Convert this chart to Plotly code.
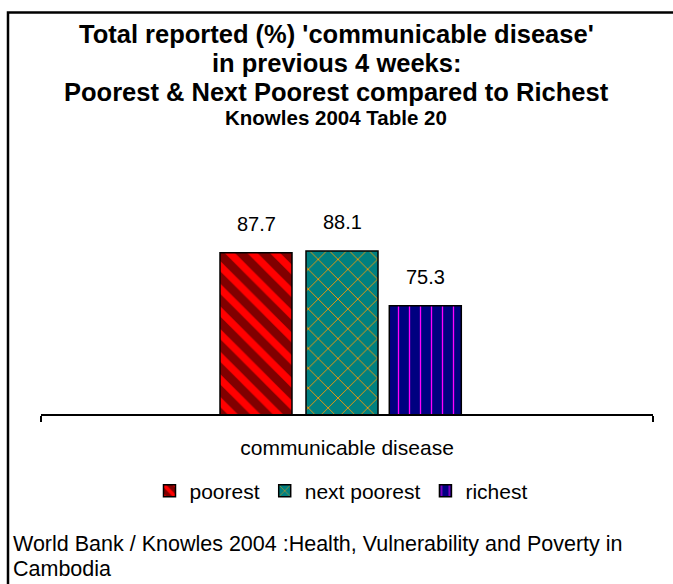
import plotly.graph_objects as go

categories = ["communicable disease"]
series_names = ["poorest", "next poorest", "richest"]
poorest = [87.7]
next_poorest = [88.1]
richest = [75.3]

title_lines = [
    "Total reported (%) 'communicable disease'",
    "in previous 4 weeks:",
    "Poorest & Next Poorest compared to Richest",
]
subtitle = "Knowles 2004 Table 20"
source_lines = [
    "World Bank / Knowles 2004 :Health, Vulnerability and Poverty in",
    "Cambodia",
]

FONT = "Liberation Sans, Arial, sans-serif"

# layout geometry (pixels)
W, H = 673, 584
L, R, T, B = 41, 20, 199.5, 169.5
PW = W - L - R
PH = H - T - B

def py(ypix):
    return (H - B - ypix) / PH

def px(xpix):
    return (xpix - L) / PW

bar_w = 72 / PW
offsets = [(220 - 347) / PW, (306 - 347) / PW, (389.3 - 347) / PW]

styles = [
    dict(color="#800000", shape="\\", fg="#FF0000", size=16, sol=0.45),
    dict(color="#008080", shape="x", fg="#FF9900", size=14, sol=0.12),
    dict(color="#000080", shape="|", fg="#FF00FF", size=11, sol=0.12),
]

fig = go.Figure()
for name, vals, st, off in zip(series_names, [poorest, next_poorest, richest], styles, offsets):
    fig.add_trace(go.Bar(
        x=categories, y=vals, name=name,
        width=bar_w, offset=off,
        marker=dict(
            color=st["color"],
            line=dict(color="black", width=1.5),
            pattern=dict(shape=st["shape"], fgcolor=st["fg"], bgcolor=st["color"],
                         size=st["size"], solidity=st["sol"], fillmode="replace"),
        ),
    ))
    for c, v in zip(categories, vals):
        fig.add_annotation(
            x=c, y=v, text=f"{v:.1f}", showarrow=False,
            xref="x", yref="y", yanchor="bottom",
            xshift=(off + bar_w / 2) * PW, yshift=16,
            font=dict(family=FONT, size=20, color="black"),
        )

annots = []
ys = [33, 62, 91]
for t, y in zip(title_lines, ys):
    annots.append(dict(text=f"<b>{t}</b>", x=px(336), y=py(y), xref="paper", yref="paper",
                       showarrow=False, xanchor="center", yanchor="middle",
                       font=dict(family=FONT, size=25.5, color="black")))
annots.append(dict(text=f"<b>{subtitle}</b>", x=px(336), y=py(117), xref="paper", yref="paper",
                   showarrow=False, xanchor="center", yanchor="middle",
                   font=dict(family=FONT, size=20.5, color="black")))
for t, y in zip(source_lines, [545, 570]):
    annots.append(dict(text=t, x=px(11), y=py(y), xref="paper", yref="paper",
                       showarrow=False, xanchor="left", yanchor="middle",
                       font=dict(family=FONT, size=21.5, color="black")))
for a in annots:
    fig.add_annotation(**a)

fig.add_shape(type="rect", xref="paper", yref="paper",
              x0=px(8), x1=px(700), y0=py(620), y1=py(11),
              line=dict(color="black", width=2.5), fillcolor="rgba(0,0,0,0)", layer="above")

fig.update_layout(
    width=W, height=H,
    margin=dict(l=L, r=R, t=T, b=B, pad=0),
    paper_bgcolor="white", plot_bgcolor="white",
    barmode="overlay",
    showlegend=True,
    legend=dict(orientation="h", x=px(341), xanchor="center", y=py(492), yanchor="middle",
                font=dict(family=FONT, size=21, color="black"),
                itemwidth=30, tracegroupgap=0, bgcolor="rgba(0,0,0,0)"),
    font=dict(family=FONT, color="black"),
    xaxis=dict(type="category", range=[-0.5, 0.5], showline=True, linecolor="black", linewidth=2,
               ticks="outside", tickson="boundaries", ticklen=6, tickwidth=2, tickcolor="black",
               showgrid=False, tickfont=dict(family=FONT, size=21, color="black"),
               ticklabelstandoff=14),
    yaxis=dict(range=[50, 100], visible=False, showgrid=False),
)

fig.write_html("out.html")
